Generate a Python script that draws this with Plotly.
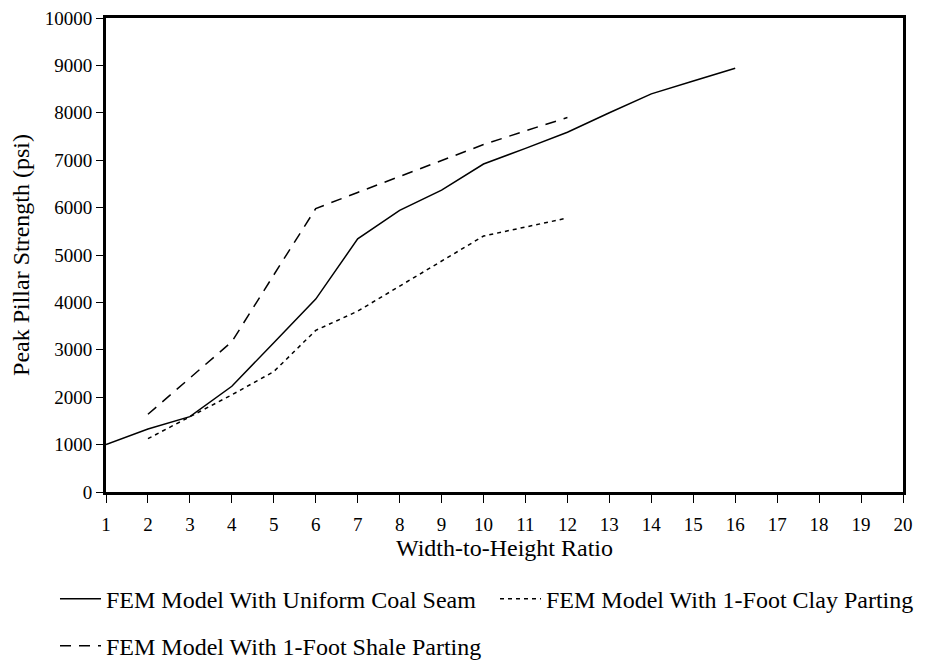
import plotly.graph_objects as go

ratio_uniform = [1, 2, 3, 4, 5, 6, 7, 8, 9, 10, 11, 12, 13, 14, 15, 16]
strength_uniform = [1000, 1330, 1590, 2230, 3150, 4070, 5340, 5940, 6370, 6920, 7250, 7590, 8000, 8400, 8670, 8940]

ratio_clay = [2, 3, 4, 5, 6, 7, 8, 9, 10, 11, 12]
strength_clay = [1125, 1580, 2050, 2540, 3410, 3815, 4340, 4870, 5400, 5590, 5780]

ratio_shale = [2, 3, 4, 5, 6, 7, 8, 9, 10, 11, 12]
strength_shale = [1640, 2400, 3170, 4580, 5980, 6320, 6660, 7000, 7330, 7620, 7900]

x_ticks = list(range(1, 21))
y_ticks = list(range(0, 10001, 1000))

FONT = "Liberation Serif"

fig = go.Figure()
fig.add_trace(go.Scatter(x=ratio_uniform, y=strength_uniform, mode="lines",
                         name="FEM Model With Uniform Coal Seam",
                         line=dict(color="black", width=1.5), legend="legend"))
fig.add_trace(go.Scatter(x=ratio_clay, y=strength_clay, mode="lines",
                         name="FEM Model With 1-Foot Clay Parting",
                         line=dict(color="black", width=1.5, dash="4px,4px"), legend="legend"))
fig.add_trace(go.Scatter(x=ratio_shale, y=strength_shale, mode="lines",
                         name="FEM Model With 1-Foot Shale Parting",
                         line=dict(color="black", width=1.5, dash="11px,8px"), legend="legend2"))

fig.update_layout(
    width=922, height=654,
    margin=dict(l=98, r=27, t=10, b=170, autoexpand=False),
    paper_bgcolor="white", plot_bgcolor="white",
    font=dict(family=FONT, color="black", size=19),
    showlegend=True,
    legend=dict(orientation="h", x=-0.064, y=-0.226, xanchor="left", yanchor="middle",
                font=dict(family=FONT, size=24), bgcolor="rgba(0,0,0,0)",
                itemwidth=41, entrywidth=384, entrywidthmode="pixels", traceorder="normal"),
    legend2=dict(orientation="h", x=-0.064, y=-0.325, xanchor="left", yanchor="middle",
                 font=dict(family=FONT, size=24), bgcolor="rgba(0,0,0,0)", itemwidth=41),
)
fig.update_xaxes(range=[1, 20], tickvals=x_ticks, ticktext=[str(v) for v in x_ticks],
                 showgrid=False, zeroline=False, showline=True, mirror=True,
                 linecolor="black", linewidth=3, ticks="outside", ticklen=8,
                 tickwidth=1, tickcolor="black", tickfont=dict(size=19, family=FONT),
                 ticklabelstandoff=5, ticklabeloverflow="allow",
                 title=dict(text="Width-to-Height Ratio", font=dict(size=24, family=FONT), standoff=0))
fig.update_yaxes(range=[0, 10000], tickvals=y_ticks, ticktext=[str(v) for v in y_ticks],
                 showgrid=False, zeroline=False, showline=True, mirror=True,
                 linecolor="black", linewidth=3, ticks="outside", ticklen=7,
                 tickwidth=1, tickcolor="black", tickfont=dict(size=19, family=FONT),
                 ticklabelstandoff=0, ticklabeloverflow="allow",
                 title=dict(text="Peak Pillar Strength (psi)", font=dict(size=24, family=FONT), standoff=14))

fig.write_html("out.html")
